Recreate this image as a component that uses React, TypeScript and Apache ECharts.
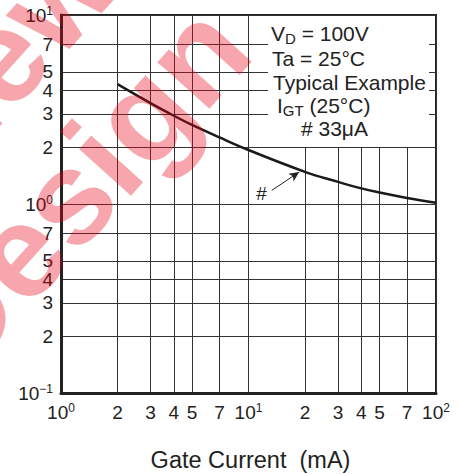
import React, { useEffect, useRef } from "react";
import * as echarts from "echarts";

const FONT = "'Liberation Sans', Arial, Helvetica, sans-serif";

// Gate current (mA)
const gateCurrent = [2, 3, 4, 5, 7, 10, 20, 30, 40, 50, 70, 100];
// Gate trigger current ratio (normalized)
const ratio = [4.31, 3.42, 2.93, 2.62, 2.25, 1.93, 1.48, 1.31, 1.21, 1.15, 1.077, 1.016];

const xTicks = [1, 2, 3, 4, 5, 7, 10, 20, 30, 40, 50, 70, 100];
const yTicks = [0.1, 0.2, 0.3, 0.4, 0.5, 0.7, 1, 2, 3, 4, 5, 7, 10];

// Arrow annotation "#" (data coordinates)
const arrowFrom = [13.3, 1.18];
const arrowTo = [18.65, 1.477];

const xTitle = "Gate Current  (mA)";

function logLabel(v: number): string {
  const e = Math.log10(v);
  const r = Math.round(e);
  if (Math.abs(e - r) < 1e-6) {
    const exp = r < 0 ? "\u2212" + Math.abs(r) : String(r);
    return "{b|10}{s|" + exp + "}";
  }
  const d = Math.round(v / Math.pow(10, Math.floor(e + 1e-9)));
  return "{b|" + d + "}";
}

const rich = {
  b: { fontSize: 19, fontFamily: FONT, color: "#222" },
  s: { fontSize: 12, fontFamily: FONT, color: "#222", verticalAlign: "top" },
};

export default function App() {
  const ref = useRef<HTMLDivElement>(null);
  useEffect(() => {
    if (!ref.current) return;
    const chart = echarts.init(ref.current, null, { renderer: "svg" });
    const deg = (48 * Math.PI) / 180;
    const boxText = (x: number, y: number, text: string) => ({
      type: "text",
      x,
      y,
      z: 50,
      style: {
        text,
        fill: "#222",
        fontSize: 21,
        fontFamily: FONT,
        align: "left",
        verticalAlign: "middle",
        rich: {
          m: { fontSize: 21, fontFamily: FONT, fill: "#222", lineHeight: 21, verticalAlign: "top" },
          sub: { fontSize: 15, fontFamily: FONT, fill: "#222", lineHeight: 15, padding: [8, 0, 0, 0], verticalAlign: "top" },
        },
      },
    });
    const mark = (text: string, x: number, y: number) => ({
      type: "text",
      x,
      y,
      rotation: deg,
      z: 100,
      silent: true,
      style: {
        text,
        fontSize: 132,
        fontWeight: "bold",
        fontFamily: FONT,
        fill: "#e60012",
        opacity: 0.35,
        align: "left",
        verticalAlign: "middle",
      },
    });
    chart.setOption({
      animation: false,
      backgroundColor: "#fff",
      grid: {
        left: 61,
        right: 24,
        top: 15,
        bottom: 81,
        outerBoundsMode: "none",
        show: true,
        borderColor: "#222",
        borderWidth: 2,
        backgroundColor: "transparent",
      },
      xAxis: {
        type: "log",
        logBase: 10,
        min: 1,
        max: 100,
        name: xTitle,
        nameLocation: "middle",
        nameGap: 55,
        nameTextStyle: { fontSize: 23.5, fontFamily: FONT, color: "#222", padding: [0, 0, 0, 4] },
        axisLine: { show: true, onZero: false, lineStyle: { color: "#222", width: 3 } },
        axisTick: { show: false, customValues: xTicks },
        axisLabel: {
          customValues: xTicks,
          formatter: (v: number) => logLabel(v),
          rich,
          fontSize: 19,
          lineHeight: 20,
          fontFamily: FONT,
          color: "#222",
          margin: 9,
          showMinLabel: true,
          showMaxLabel: true,
        },
        splitLine: { show: true, lineStyle: { color: "#333", width: 1 } },
        minorTick: { show: false },
        minorSplitLine: { show: false },
      },
      yAxis: {
        type: "log",
        logBase: 10,
        min: 0.1,
        max: 10,
        axisLine: { show: true, onZero: false, lineStyle: { color: "#222", width: 3 } },
        axisTick: { show: false, customValues: yTicks },
        axisLabel: {
          customValues: yTicks,
          formatter: (v: number) => logLabel(v),
          rich,
          fontSize: 19,
          lineHeight: 20,
          fontFamily: FONT,
          color: "#222",
          margin: 8,
          showMinLabel: true,
          showMaxLabel: true,
        },
        splitLine: { show: true, lineStyle: { color: "#333", width: 1 } },
        minorTick: { show: false },
        minorSplitLine: { show: false },
      },
      series: [
        {
          type: "line",
          data: gateCurrent.map((x, i) => [x, ratio[i]]),
          smooth: 0.4,
          showSymbol: false,
          symbol: "none",
          lineStyle: { color: "#1a1a1a", width: 2.5 },
          z: 5,
          markLine: {
            silent: true,
            symbol: ["none", "arrow"],
            symbolSize: [7, 10],
            lineStyle: { color: "#222", width: 1, type: "solid" },
            label: {
              show: true,
              position: "start",
              formatter: "#",
              fontSize: 19,
              fontFamily: FONT,
              color: "#222",
              distance: 6,
            },
            data: [[{ coord: arrowFrom }, { coord: arrowTo }]],
          },
        },
      ],
      graphic: [
        {
          type: "rect",
          z: 40,
          shape: { x: 268, y: 16, width: 161, height: 131 },
          style: { fill: "#fff" },
        },
        boxText(271, 33, "{m|V}{sub|D}{m| = 100V}"),
        boxText(272, 58, "{m|Ta = 25°C}"),
        boxText(273, 82, "{m|Typical Example}"),
        boxText(277, 105, "{m|I}{sub|GT}{m| (25°C)}"),
        boxText(301, 128, "{m|# 33μA}"),
        mark("New", -89, 157),
        mark("Design", -71, 352),
      ],
    });
    return () => chart.dispose();
  }, []);
  return <div ref={ref} style={{ width: 460, height: 474, position: "absolute", left: 0, top: 0 }} />;
}
